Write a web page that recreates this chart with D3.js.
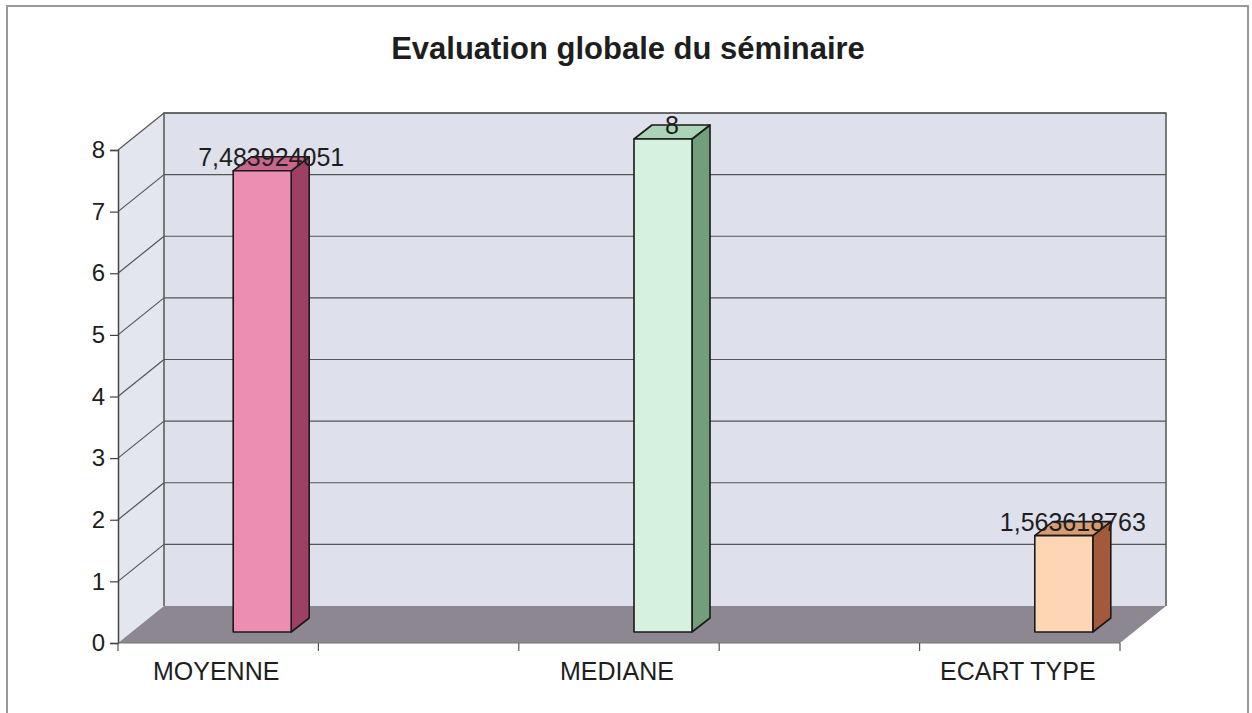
<!DOCTYPE html>
<html>
<head>
<meta charset="utf-8">
<script src="https://cdn.jsdelivr.net/npm/d3@7"></script>
<style>
  html, body { margin: 0; padding: 0; background: #fff; }
  svg { display: block; font-family: "Liberation Sans", Arial, sans-serif; }
</style>
</head>
<body>
<svg id="chart" width="1252" height="713"></svg>
<script>
// Category slots (empty slots keep the spacing of the original workbook)
const categories = ["MOYENNE", "", "MEDIANE", "", "ECART TYPE"];
const values = [7.483924051, null, 8, null, 1.563618763];
const valueLabels = ["7,483924051", "", "8", "", "1,563618763"];
const yTicks = [0, 1, 2, 3, 4, 5, 6, 7, 8];
const title = "Evaluation globale du séminaire";

// Face colours per bar: front, side, top
const faceColors = [
  { front: "#EC8DB2", side: "#9E3F64", top: "#C9668D" },
  null,
  { front: "#D6F1DD", side: "#729E7C", top: "#ABD3B5" },
  null,
  { front: "#FCD6B5", side: "#A25A3B", top: "#D69C74" }
];

const svg = d3.select("#chart");

// Outer frame
svg.append("rect")
  .attr("x", 7).attr("y", 6).attr("width", 1241).attr("height", 712)
  .attr("fill", "#fff").attr("stroke", "#9a9a9a").attr("stroke-width", 2);

// Title
svg.append("text")
  .attr("x", 628).attr("y", 59)
  .attr("text-anchor", "middle")
  .attr("font-size", 31).attr("font-weight", "bold")
  .attr("fill", "#1e1e1e")
  .text(title);

// Scales on the front plane
const x = d3.scaleBand().domain(d3.range(categories.length)).range([118, 1120]).padding(0);
const y = d3.scaleLinear().domain([0, 8]).range([643, 150]);

// Depth offset of the back wall
const DX = 46, DY = -37;
const xL = x.range()[0], xR = x.range()[1];

const g = svg.append("g");

// Back wall
g.append("rect")
  .attr("x", xL + DX).attr("y", y(8) + DY)
  .attr("width", xR - xL).attr("height", y(0) - y(8))
  .attr("fill", "#DEE0EB");

// Left side wall
g.append("path")
  .attr("d", `M${xL},${y(0)} L${xL},${y(8)} L${xL + DX},${y(8) + DY} L${xL + DX},${y(0) + DY} Z`)
  .attr("fill", "#E4E6EF");

// Gridlines on back wall and left wall
yTicks.filter(v => v > 0).forEach(v => {
  g.append("line")
    .attr("x1", xL + DX).attr("x2", xR + DX)
    .attr("y1", y(v) + DY).attr("y2", y(v) + DY)
    .attr("stroke", "#555").attr("stroke-width", 1.2);
  g.append("line")
    .attr("x1", xL).attr("x2", xL + DX)
    .attr("y1", y(v)).attr("y2", y(v) + DY)
    .attr("stroke", "#555").attr("stroke-width", 1.2);
});

// Wall outlines
g.append("path")
  .attr("d", `M${xL + DX},${y(0) + DY} L${xL + DX},${y(8) + DY} L${xR + DX},${y(8) + DY} L${xR + DX},${y(0) + DY}`)
  .attr("fill", "none").attr("stroke", "#555").attr("stroke-width", 1.5);

// Floor
g.append("path")
  .attr("d", `M${xL},${y(0)} L${xL + DX},${y(0) + DY} L${xR + DX},${y(0) + DY} L${xR},${y(0)} Z`)
  .attr("fill", "#8C8791");

// Value axis (front left edge)
const yAxis = d3.axisLeft(y).tickValues(yTicks).tickSize(8).tickPadding(5).tickFormat(d3.format("d"));
const ya = svg.append("g").attr("transform", `translate(${xL},0)`).call(yAxis);
ya.select(".domain").attr("stroke", "#444").attr("stroke-width", 1.5);
ya.selectAll(".tick line").attr("stroke", "#444").attr("stroke-width", 1.2);
ya.selectAll(".tick text")
  .attr("font-size", 24).attr("fill", "#1e1e1e")
  .attr("font-family", "Liberation Sans, Arial, sans-serif");

// Category axis: ticks on band edges, labels at band centres
const catAxis = svg.append("g");
catAxis.append("line")
  .attr("x1", xL).attr("x2", xR).attr("y1", y(0)).attr("y2", y(0))
  .attr("stroke", "#777").attr("stroke-width", 1);
const edges = d3.range(categories.length).map(i => x(i)).concat([xR]);
catAxis.selectAll("line.tk").data(edges).join("line").attr("class", "tk")
  .attr("x1", d => d).attr("x2", d => d)
  .attr("y1", y(0)).attr("y2", y(0) + 8)
  .attr("stroke", "#555").attr("stroke-width", 1.2);
catAxis.selectAll("text").data(categories).join("text")
  .attr("x", (d, i) => x(i) + x.bandwidth() / 2 - 2)
  .attr("y", y(0) + 37)
  .attr("text-anchor", "middle")
  .attr("font-size", 25).attr("fill", "#1e1e1e")
  .text(d => d);

// 3D bars
const BAR_W = 58, BDX = 18, BDY = -14;   // front width and bar depth
const SHIFT_X = 44, SHIFT_Y = -11;       // bar plane offset from front plane
const bars = svg.append("g");
values.forEach((v, i) => {
  if (v == null) return;
  const c = faceColors[i];
  const cx = x(i) + x.bandwidth() / 2 + SHIFT_X;
  const x0 = cx - BAR_W / 2, x1 = cx + BAR_W / 2;
  const yb = y(0) + SHIFT_Y, yt = y(v) + SHIFT_Y;
  const bg = bars.append("g").attr("stroke", "#1a1a1a").attr("stroke-width", 1.6).attr("stroke-linejoin", "round");
  // side face
  bg.append("path")
    .attr("d", `M${x1},${yb} L${x1 + BDX},${yb + BDY} L${x1 + BDX},${yt + BDY} L${x1},${yt} Z`)
    .attr("fill", c.side);
  // top face
  bg.append("path")
    .attr("d", `M${x0},${yt} L${x0 + BDX},${yt + BDY} L${x1 + BDX},${yt + BDY} L${x1},${yt} Z`)
    .attr("fill", c.top);
  // front face
  bg.append("rect")
    .attr("x", x0).attr("y", yt).attr("width", BAR_W).attr("height", yb - yt)
    .attr("fill", c.front);
  // value label
  bars.append("text")
    .attr("x", cx + BDX / 2).attr("y", yt + BDY + 9)
    .attr("text-anchor", "middle")
    .attr("font-size", 25).attr("fill", "#1e1e1e")
    .text(valueLabels[i]);
});
</script>
</body>
</html>
